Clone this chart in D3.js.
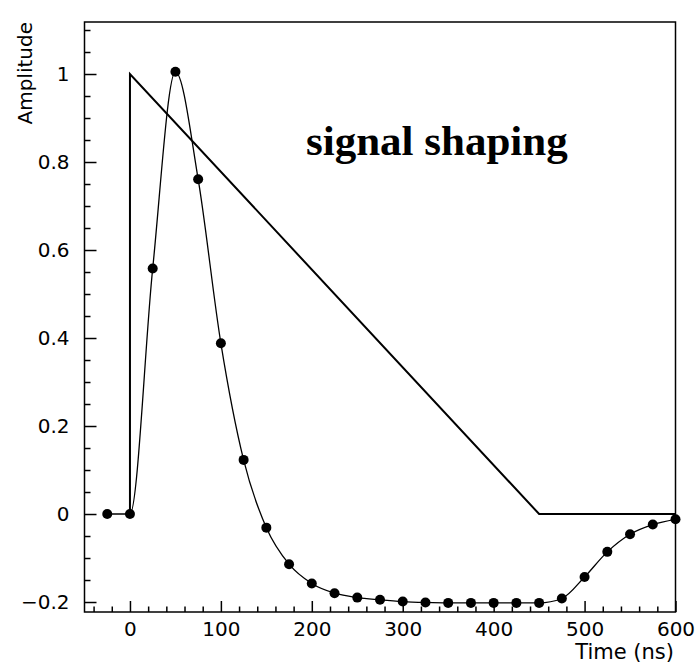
<!DOCTYPE html>
<html>
<head>
<meta charset="utf-8">
<script src="https://cdn.jsdelivr.net/npm/d3@7"></script>
<style>
    body { margin: 0; background: #fff; }
    text { font-family: "DejaVu Sans", sans-serif; fill: #000; }
    .tick line { stroke: #000; stroke-width: 1.5; }
</style>
</head>
<body>
<div id="box-div"></div>
<script>
// shaped signal, sampled every 25 ns
const sampleTime = [-25, 0, 25, 50, 75, 100, 125, 150, 175, 200, 225, 250, 275, 300,
    325, 350, 375, 400, 425, 450, 475, 500, 525, 550, 575, 600];
const sampleAmp = [0, 0, 0.558, 1.005, 0.761, 0.388, 0.123, -0.031, -0.114, -0.158, -0.180, -0.190, -0.195, -0.199,
    -0.201, -0.202, -0.202, -0.202, -0.202, -0.202, -0.192, -0.143, -0.086, -0.046, -0.024, -0.012];

// input triangle pulse
const pulseTime = [0, 0, 450, 600];
const pulseAmp = [0, 1, 0, 0];

// axes
const xMajor = [0, 100, 200, 300, 400, 500, 600];
const yMajor = [-0.2, 0, 0.2, 0.4, 0.6, 0.8, 1];
const xTitle = 'Time (ns)';
const yTitle = 'Amplitude';
const chartTitle = 'signal shaping';

let dms = {
    width: 696,
    height: 671,
    margin: { top: 22, right: 20.5, bottom: 59, left: 84.5 }
}
dms.chartWidth = dms.width - dms.margin.left - dms.margin.right;
dms.chartHeight = dms.height - dms.margin.top - dms.margin.bottom;

const box = d3.select('#box-div').append('svg')
    .attr('width', dms.width)
    .attr('height', dms.height)
    .style('display', 'block')

const content = box.append('g')
    .attr('transform', `translate(${dms.margin.left}, ${dms.margin.top})`)

const xScale = d3.scaleLinear()
    .domain([-50, 600])
    .range([0, dms.chartWidth])
const yScale = d3.scaleLinear()
    .domain([-0.2227, 1.1182])
    .range([dms.chartHeight, 0])

// ticks point inward (ROOT style)
const xAxis = content.append('g')
    .attr('transform', `translate(0, ${dms.chartHeight})`)
const xMinor = d3.range(-40, 601, 20).filter(v => v % 100 !== 0);
xAxis.append('g').call(d3.axisBottom(xScale).tickValues(xMinor).tickSize(-5.5).tickFormat(''))
xAxis.append('g').call(d3.axisBottom(xScale).tickValues(xMajor).tickSize(-11).tickPadding(10).tickFormat(d3.format('')))
xAxis.selectAll('.domain').remove()
xAxis.selectAll('text').style('font-size', '20px')

const yAxis = content.append('g')
const yMinor = d3.range(-4, 23).filter(i => i % 4 !== 0 || i > 20).map(i => i * 0.05);
yAxis.append('g').call(d3.axisLeft(yScale).tickValues(yMinor).tickSize(-6).tickFormat(''))
yAxis.append('g').call(d3.axisLeft(yScale).tickValues(yMajor).tickSize(-12).tickPadding(15).tickFormat(d3.format('')))
yAxis.selectAll('.domain').remove()
yAxis.selectAll('text').style('font-size', '20px')

// frame
content.append('rect')
    .attr('width', dms.chartWidth)
    .attr('height', dms.chartHeight)
    .attr('fill', 'none')
    .attr('stroke', '#000')
    .attr('stroke-width', 1.5)

// triangle
const pulseLine = d3.line()
    .x((d, i) => xScale(pulseTime[i]))
    .y((d, i) => yScale(pulseAmp[i]))
content.append('path')
    .attr('d', pulseLine(pulseTime))
    .attr('fill', 'none')
    .attr('stroke', '#000')
    .attr('stroke-width', 2)

// shaped signal
const sampleLine = d3.line()
    .x((d, i) => xScale(sampleTime[i]))
    .y((d, i) => yScale(sampleAmp[i]))
    .curve(d3.curveMonotoneX)
content.append('path')
    .attr('d', sampleLine(sampleTime))
    .attr('fill', 'none')
    .attr('stroke', '#000')
    .attr('stroke-width', 1.3)

content.append('g').selectAll('circle')
    .data(sampleTime)
    .join('circle')
    .attr('cx', (d, i) => xScale(sampleTime[i]))
    .attr('cy', (d, i) => yScale(sampleAmp[i]))
    .attr('r', 5)
    .attr('fill', '#000')

// titles
box.append('text')
    .attr('x', 674)
    .attr('y', 659)
    .attr('text-anchor', 'end')
    .style('font-size', '21px')
    .text(xTitle)

box.append('text')
    .attr('transform', 'translate(32, 22) rotate(-90)')
    .attr('text-anchor', 'end')
    .style('font-size', '20px')
    .text(yTitle)

box.append('text')
    .attr('x', 306)
    .attr('y', 155)
    .style('font-family', '"Liberation Serif", "Times New Roman", serif')
    .style('font-weight', 'bold')
    .style('font-size', '43px')
    .text(chartTitle)
</script>
</body>
</html>
